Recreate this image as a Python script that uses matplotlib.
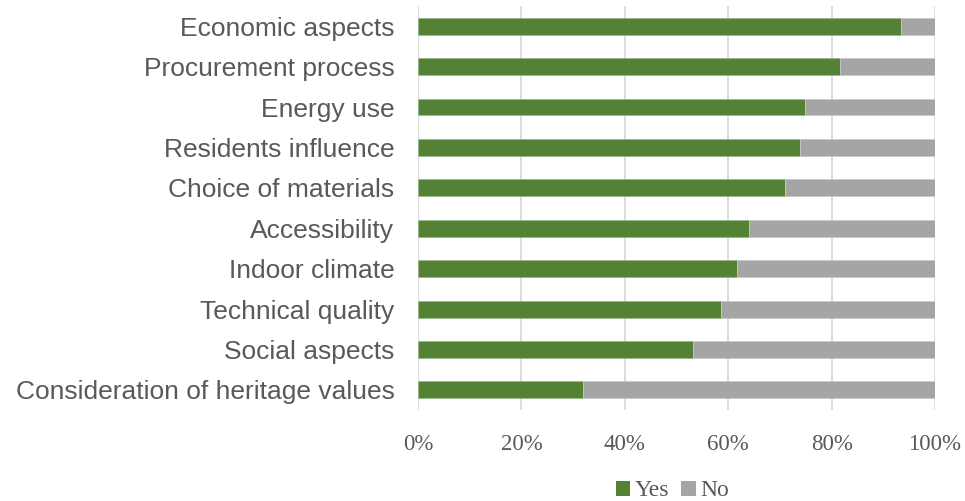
import matplotlib
matplotlib.use("Agg")
import matplotlib.pyplot as plt
from matplotlib.patches import Patch
from matplotlib.ticker import PercentFormatter

categories = ["Economic aspects", "Procurement process", "Energy use", "Residents influence",
              "Choice of materials", "Accessibility", "Indoor climate", "Technical quality",
              "Social aspects", "Consideration of heritage values"]
yes = [93.4, 81.6, 74.9, 73.8, 71.0, 64.1, 61.7, 58.6, 53.2, 32.0]
no = [100 - v for v in yes]
xticks = [0, 20, 40, 60, 80, 100]

green = "#548235"
gray = "#A5A5A5"
txt = "#595959"

fig = plt.figure(figsize=(9.65, 5.01), dpi=100)
ax = fig.add_axes([0.4332, 0.1816, 0.5357, 0.8064])

ypos = list(range(len(categories)))[::-1]
ax.barh(ypos, yes, height=0.42, color=green, edgecolor="#9ab78a", linewidth=0.6, label="Yes", zorder=3)
ax.barh(ypos, no, left=yes, height=0.42, color=gray, edgecolor="#c9c9c9", linewidth=0.6, label="No", zorder=3)

ax.set_xlim(0, 100)
ax.set_ylim(-0.5, len(categories) - 0.5)
ax.set_xticks(xticks)
ax.xaxis.set_major_formatter(PercentFormatter(decimals=0))
ax.set_yticks(ypos)
ax.set_yticklabels(categories, fontsize=19, color=txt, family="Liberation Sans")
for lab in ax.get_xticklabels():
    lab.set_family("Liberation Serif")
    lab.set_fontsize(16.5)
    lab.set_color(txt)
ax.tick_params(axis="both", length=0)
ax.tick_params(axis="y", pad=17)
ax.tick_params(axis="x", pad=17)
ax.grid(axis="x", color="#D9D9D9", linewidth=1.3, zorder=0)
for s in ax.spines.values():
    s.set_visible(False)

handles = [Patch(facecolor=green, label="Yes"), Patch(facecolor=gray, label="No")]
fig.legend(handles=handles, loc="center", bbox_to_anchor=(0.697, 0.02), ncol=2, frameon=False,
           prop={"family": "Liberation Serif", "size": 17}, labelcolor=txt,
           handlelength=0.6, handleheight=0.6, handletextpad=0.2, columnspacing=0.5)

fig.savefig("out.png", dpi=100)
